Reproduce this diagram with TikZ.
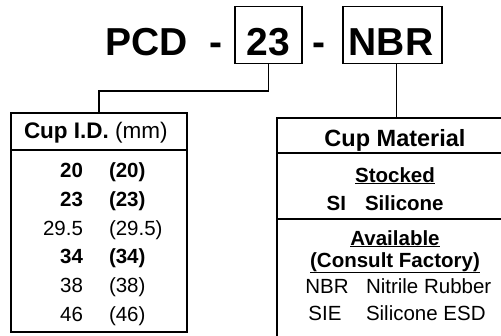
\documentclass[tikz,border=0pt]{standalone}
\usepackage{fontspec}
\setmainfont{Liberation Sans}
\begin{document}
\begin{tikzpicture}[x=1pt,y=-1pt,
  every node/.style={inner sep=0pt,outer sep=0pt},
  big/.style={font=\fontsize{39}{39}\selectfont\bfseries},
  codebox/.style={draw,line width=1.8pt,minimum width=67pt,minimum height=57pt},
  tablebox/.style={draw,line width=1.8pt,anchor=north west},
  sep/.style={line width=1.8pt},
  conn/.style={line width=1.8pt},
  tab/.style={font=\fontsize{20.5}{20.5}\selectfont},
  tabb/.style={font=\fontsize{20.5}{20.5}\selectfont\bfseries},
  head/.style={font=\fontsize{23.5}{23.5}\selectfont\bfseries},
]
\useasboundingbox (0,0) rectangle (501,335);
\clip (0,0) rectangle (501,335);
% title
\node[big,anchor=base west] (pcd) at (105,55) {PCD};
\node[big,anchor=base] (d1) at (216,55) {-};
\node[big,anchor=base] (d2) at (319,55) {-};
\node[codebox] (b23) at (268.5,35) {};
\node[big,anchor=base] (t23) at (268.5,55) {23};
\node[codebox,minimum width=99pt] (bnbr) at (392.5,35) {};
\node[big,anchor=base] (tnbr) at (391,55) {NBR};
% boxes
\node[tablebox,minimum width=176pt,minimum height=219pt] (cupid) at (11,113) {};
\node[tablebox,minimum width=240pt,minimum height=240pt] (mat) at (277,118) {};
% connectors
\coordinate (bend) at (b23.south |- 0,91);
\draw[conn] (b23.south) -- (bend) -| (cupid.north);
\coordinate (ntop) at ([xshift=4pt]bnbr.south);
\draw[conn] (ntop) -- (ntop |- mat.north);
% left table
\draw[sep] (cupid.west |- 0,150) -- (cupid.east |- 0,150);
\node[anchor=base west] (hid) at (24,138) {\fontsize{22.5}{22.5}\selectfont\textbf{Cup I.D.} (mm)};
\node[tabb,anchor=base east] (r1a) at (83,177.5) {20};
\node[tabb,anchor=base west] (r1b) at (109,177.5) {(20)};
\node[tabb,anchor=base east] (r2a) at (83,206.3) {23};
\node[tabb,anchor=base west] (r2b) at (109,206.3) {(23)};
\node[tab,anchor=base east] (r3a) at (83,235.1) {29.5};
\node[tab,anchor=base west] (r3b) at (109,235.1) {(29.5)};
\node[tabb,anchor=base east] (r4a) at (83,263.9) {34};
\node[tabb,anchor=base west] (r4b) at (109,263.9) {(34)};
\node[tab,anchor=base east] (r5a) at (83,292.7) {38};
\node[tab,anchor=base west] (r5b) at (109,292.7) {(38)};
\node[tab,anchor=base east] (r6a) at (83,321.5) {46};
\node[tab,anchor=base west] (r6b) at (109,321.5) {(46)};
% right table
\draw[sep] (mat.west |- 0,153) -- (mat.east |- 0,153);
\draw[sep] (mat.west |- 0,219) -- (mat.east |- 0,219);
\node[head,anchor=base] (hmat) at (395,146) {Cup Material};
\node[tabb,anchor=base] (stk) at (395,182) {\underline{Stocked}};
\node[tabb,anchor=base east] (si) at (346,210) {SI};
\node[tabb,anchor=base west] (sil) at (365,210) {Silicone};
\node[tabb,anchor=base] (avl) at (395,245) {\underline{Available}};
\node[tabb,anchor=base] (cf) at (395,267) {\underline{(Consult Factory)}};
\node[tab,anchor=base] (nbr) at (327,293) {NBR};
\node[tab,anchor=base west] (nbrn) at (366,293) {Nitrile Rubber};
\node[tab,anchor=base] (sie) at (325,320) {SIE};
\node[tab,anchor=base west] (sien) at (366,320) {Silicone ESD};
\end{tikzpicture}
\end{document}
